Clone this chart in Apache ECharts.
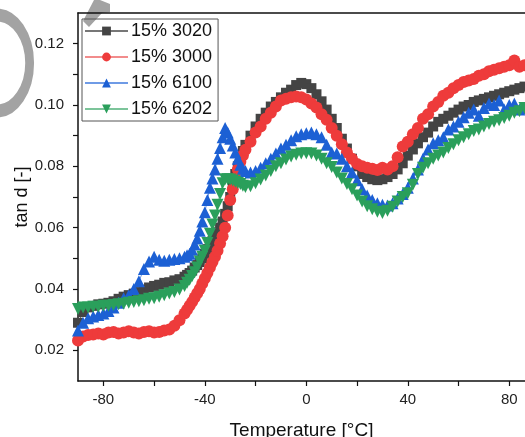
<!DOCTYPE html>
<html>
<head>
<meta charset="utf-8">
<script src="https://cdn.jsdelivr.net/npm/echarts@6/dist/echarts.min.js"></script>
<style>html,body{margin:0;padding:0;background:#fff;overflow:hidden}#c{width:525px;height:437px}</style>
</head>
<body>
<div id="c"></div>
<script>
var temps = [-90,-88,-86,-84,-82,-80,-78,-76,-74,-72,-70,-68,-66,-64,-62,-60,-58,-56,-54,-52,-50,-48,-47,-46,-45,-44,-43,-42,-41,-40,-39,-38,-37,-36,-35,-34,-33,-32,-31,-30,-29,-28,-27,-26,-25,-24,-22,-20,-18,-16,-14,-12,-10,-8,-6,-4,-2,0,2,4,6,8,10,12,14,16,18,20,22,24,26,28,30,32,34,36,38,40,42,44,46,48,50,52,54,56,58,60,62,64,66,68,70,72,74,76,78,80,82,84,86];

var s3020 = [0.029,0.0325,0.034,0.0345,0.035,0.0352,0.0355,0.036,0.0368,0.0375,0.038,0.0385,0.039,0.0398,0.0405,0.041,0.0414,0.042,0.0422,0.0428,0.0432,0.044,0.0446,0.0452,0.046,0.047,0.0478,0.0488,0.050,0.0515,0.053,0.0545,0.0556,0.057,0.0585,0.060,0.062,0.0645,0.067,0.070,0.074,0.0775,0.080,0.0825,0.085,0.087,0.090,0.093,0.0955,0.0975,0.0995,0.101,0.1025,0.104,0.105,0.1065,0.1072,0.1068,0.1055,0.1035,0.1012,0.0985,0.0955,0.0925,0.089,0.0858,0.0825,0.080,0.0775,0.0765,0.0758,0.0755,0.0758,0.0765,0.0775,0.079,0.081,0.0835,0.0855,0.0875,0.0895,0.091,0.093,0.0945,0.0955,0.0965,0.0975,0.0985,0.0995,0.100,0.101,0.1015,0.102,0.1025,0.103,0.1035,0.104,0.1045,0.105,0.1055,0.106];

var s3000 = [0.0232,0.0245,0.025,0.0252,0.0255,0.0252,0.0258,0.026,0.0255,0.0258,0.0262,0.0258,0.0255,0.026,0.0262,0.0258,0.026,0.0265,0.0268,0.028,0.0298,0.032,0.0332,0.0345,0.0358,0.0372,0.0386,0.040,0.0418,0.0435,0.0452,0.047,0.0488,0.0505,0.0525,0.0548,0.0572,0.060,0.064,0.069,0.0725,0.076,0.079,0.0815,0.0835,0.0854,0.088,0.091,0.093,0.0955,0.0975,0.0995,0.1015,0.102,0.1025,0.1028,0.1025,0.1018,0.1005,0.0992,0.097,0.0952,0.0925,0.090,0.0872,0.0845,0.0825,0.0808,0.080,0.0795,0.0792,0.0788,0.0795,0.079,0.080,0.083,0.0865,0.088,0.0905,0.0925,0.0955,0.097,0.0995,0.101,0.103,0.104,0.1055,0.1065,0.1075,0.108,0.1085,0.1095,0.110,0.111,0.1115,0.112,0.1125,0.113,0.1145,0.1125,0.113];

var s6100 = [0.0265,0.029,0.0305,0.031,0.0315,0.032,0.0328,0.034,0.0355,0.037,0.038,0.040,0.0425,0.0465,0.049,0.0505,0.0495,0.0492,0.0495,0.0498,0.050,0.0505,0.051,0.0515,0.0528,0.0545,0.0565,0.059,0.062,0.065,0.069,0.073,0.076,0.079,0.0825,0.086,0.0895,0.0925,0.091,0.089,0.0868,0.0845,0.0825,0.0805,0.0792,0.0785,0.078,0.0785,0.0795,0.081,0.0825,0.0842,0.0858,0.087,0.0885,0.0898,0.0905,0.0908,0.091,0.0905,0.0895,0.087,0.0845,0.0842,0.0825,0.080,0.078,0.0755,0.0725,0.0705,0.069,0.068,0.0675,0.0672,0.068,0.0695,0.071,0.073,0.076,0.079,0.0825,0.0855,0.0875,0.0885,0.0895,0.092,0.093,0.0945,0.096,0.0975,0.0985,0.0965,0.099,0.1005,0.100,0.1015,0.0985,0.100,0.1005,0.0985,0.099];

var s6202 = [0.0335,0.034,0.034,0.0342,0.0342,0.0345,0.0345,0.0348,0.035,0.0352,0.0355,0.0358,0.036,0.0363,0.0368,0.037,0.0375,0.038,0.0385,0.039,0.0398,0.041,0.042,0.043,0.0442,0.0455,0.047,0.049,0.0505,0.0525,0.055,0.058,0.061,0.064,0.0675,0.071,0.0745,0.0758,0.0758,0.0757,0.0754,0.075,0.0746,0.0742,0.0737,0.0733,0.0735,0.0745,0.0757,0.077,0.0785,0.080,0.081,0.0822,0.0832,0.0838,0.0842,0.0843,0.0842,0.0835,0.0825,0.081,0.0798,0.078,0.076,0.0742,0.0725,0.0705,0.0685,0.067,0.066,0.0652,0.0648,0.0655,0.0668,0.0685,0.070,0.0712,0.074,0.0775,0.0795,0.081,0.0825,0.0835,0.0845,0.086,0.0872,0.0885,0.0895,0.0905,0.0915,0.092,0.093,0.0938,0.0945,0.095,0.0958,0.0965,0.0975,0.098,0.099];

var seriesNames = ['15% 3020','15% 3000','15% 6100','15% 6202'];
var xTicks = [-80,-60,-40,-20,0,20,40,60,80];
var xLabels = [-80,-40,0,40,80];
var yTicks = [0.02,0.03,0.04,0.05,0.06,0.07,0.08,0.09,0.10,0.11,0.12];
var yLabels = [0.02,0.04,0.06,0.08,0.10,0.12];

function pairs(vals){ return temps.map(function(t,i){ return [t, vals[i]]; }); }

var FONT = '"Liberation Sans", Arial, sans-serif';
var chart = echarts.init(document.getElementById('c'), null, {renderer:'canvas'});

function mk(name, vals, color, lineColor, symbol, size){
  return {
    name: name, type: 'line', data: pairs(vals),
    symbol: symbol, symbolSize: size, showSymbol: true,
    itemStyle: {color: color, opacity: 1},
    lineStyle: {color: lineColor, width: 1},
    animation: false, clip: true
  };
}

chart.setOption({
  animation: false,
  backgroundColor: '#fff',
  grid: {left: 78, top: 13, right: 0, bottom: 56, containLabel: false, outerBoundsMode: 'none'},
  legend: {
    orient: 'vertical', left: 82, top: 19,
    data: seriesNames,
    itemWidth: 43, itemHeight: 11, itemGap: 8,
    borderColor: '#555', borderWidth: 1, padding: [3, 6, 3, 2],
    textStyle: {fontFamily: FONT, fontSize: 18, color: '#111', padding: [0,0,0,-2]}
  },
  xAxis: [{
    type: 'value', min: -90, max: 86.2,
    position: 'bottom',
    name: 'Temperature [°C]', nameLocation: 'middle', nameGap: 40, nameMoveOverlap: false,
    nameTextStyle: {fontFamily: FONT, fontSize: 19, color: '#111'},
    axisLine: {show: true, onZero: false, lineStyle: {color: '#111', width: 1.5}},
    axisTick: {show: true, inside: false, length: 5, lineStyle: {color: '#111', width: 1.2}, customValues: xTicks},
    axisLabel: {fontFamily: FONT, fontSize: 15, color: '#222', margin: 11, customValues: xLabels},
    splitLine: {show: false}
  }, {
    type: 'value', min: -90, max: 86.2, position: 'top',
    axisLine: {show: true, onZero: false, lineStyle: {color: '#111', width: 1.5}},
    axisTick: {show: false}, axisLabel: {show: false}, splitLine: {show: false}
  }],
  yAxis: {
    type: 'value', min: 0.01, max: 0.13,
    name: 'tan d [-]', nameLocation: 'middle', nameGap: 47, nameRotate: 90, nameMoveOverlap: false,
    nameTextStyle: {fontFamily: FONT, fontSize: 18, color: '#111'},
    axisLine: {show: true, onZero: false, lineStyle: {color: '#111', width: 1.5}},
    axisTick: {show: true, inside: false, length: 5, lineStyle: {color: '#111', width: 1.2}, customValues: yTicks},
    axisLabel: {fontFamily: FONT, fontSize: 15, color: '#222', margin: 14, customValues: yLabels,
      formatter: function(v){ return v.toFixed(2); }},
    splitLine: {show: false}
  },
  series: [
    mk(seriesNames[0], s3020, '#444444', '#777777', 'rect', 10),
    mk(seriesNames[1], s3000, '#ee3b3b', '#f28c8c', 'circle', 12),
    mk(seriesNames[2], s6100, '#1c60d4', '#6f9be6', 'triangle', 12),
    mk(seriesNames[3], s6202, '#2a9f5b', '#7cc49a', 'path://M0,0 L10,0 L5,9 Z', 12)
  ],
  graphic: [
    {type: 'arc', x: -3, y: 63, scaleX: 0.68, scaleY: 1,
     shape: {cx: 0, cy: 0, r: 48, startAngle: -Math.PI*0.5, endAngle: Math.PI*0.5},
     style: {stroke: '#a3a3a3', lineWidth: 13, fill: null}, z: -1},
    {type: 'polygon', shape: {points: [[83,21],[89,27],[102,13],[110,12],[110,4],[100,0],[94,0]]},
     style: {fill: '#a3a3a3'}, z: -1}
  ]
});
</script>
</body>
</html>
